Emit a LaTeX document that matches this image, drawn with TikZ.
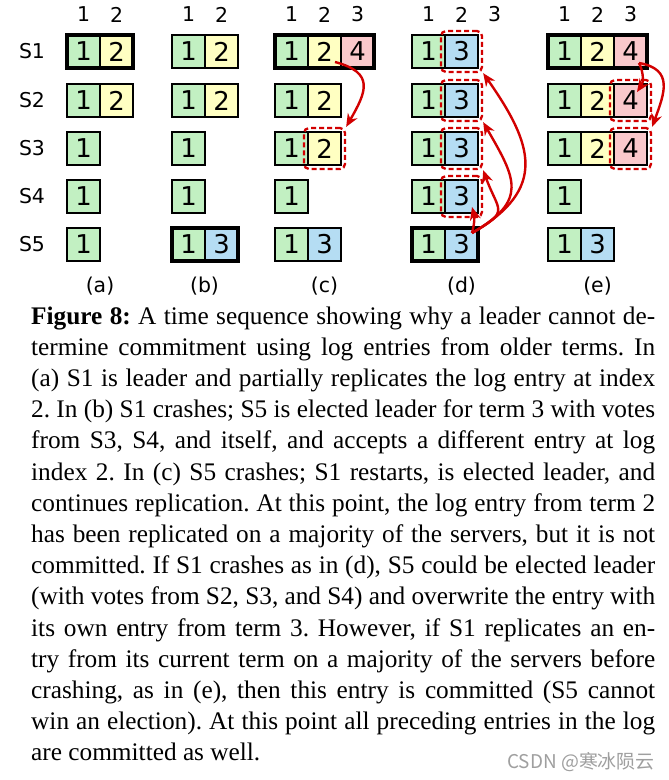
\documentclass[tikz,border=0pt]{standalone}
\usepackage{fontspec}
\setmainfont{Liberation Serif}
\newfontfamily\cellfont{DejaVu Sans}
\newfontfamily\cjkfont{Noto Sans CJK SC}
\usetikzlibrary{arrows.meta,positioning,fit}
\definecolor{termone}{HTML}{C2F0C2}
\definecolor{termtwo}{HTML}{FFFFC2}
\definecolor{termthree}{HTML}{B5DDF3}
\definecolor{termfour}{HTML}{FAC8CB}
\definecolor{arrowred}{HTML}{D20000}

\begin{document}
\begin{tikzpicture}[x=1bp,y=1bp,>={Stealth[length=13bp,width=11bp]},
  cell/.style={draw,line width=1.7bp,minimum width=33bp,minimum height=33bp,inner sep=0pt,outer sep=0pt,font=\cellfont\fontsize{26}{26}\selectfont},
  tm1/.style={cell,fill=termone},tm2/.style={cell,fill=termtwo},
  tm3/.style={cell,fill=termthree},tm4/.style={cell,fill=termfour},
  lead/.style={line width=4.5bp},
  pick/.style={draw=arrowred,line width=2.3bp,dash pattern=on 5bp off 3bp,rounded corners=5bp,inner sep=4bp},
  move/.style={draw=arrowred,line width=2.4bp,->},
  lbl/.style={font=\cellfont\fontsize{20.5}{20.5}\selectfont}]
\useasboundingbox[fill=white] (0,0) rectangle (669,-780);
% server names
\node[lbl] (s1) at (32,-51.5) {S1};
\node[lbl] (s2) at (32,-100.5) {S2};
\node[lbl] (s3) at (32,-148.5) {S3};
\node[lbl] (s4) at (32,-196.5) {S4};
\node[lbl] (s5) at (32,-244.5) {S5};
% index numbers
\node[lbl] (ah1) at (83.5,-14.5) {1}; \node[lbl] (ah2) at (116.5,-14.5) {2};
\node[lbl] (bh1) at (188.5,-14.5) {1}; \node[lbl] (bh2) at (221.5,-14.5) {2};
\node[lbl] (ch1) at (291.5,-14.5) {1}; \node[lbl] (ch2) at (324.5,-14.5) {2}; \node[lbl] (ch3) at (357.5,-14.5) {3};
\node[lbl] (dh1) at (428.5,-14.5) {1}; \node[lbl] (dh2) at (461.5,-14.5) {2}; \node[lbl] (dh3) at (494.5,-14.5) {3};
\node[lbl] (eh1) at (564.5,-14.5) {1}; \node[lbl] (eh2) at (597.5,-14.5) {2}; \node[lbl] (eh3) at (630.5,-14.5) {3};
% (a)
\node[tm1] (a1e1) at (83.5,-51.5) {1}; \node[tm2,right=0pt of a1e1] (a1e2) {2};
\node[tm1] (a2e1) at (83.5,-100.5) {1}; \node[tm2,right=0pt of a2e1] (a2e2) {2};
\node[tm1] (a3e1) at (83.5,-148.5) {1};
\node[tm1] (a4e1) at (83.5,-196.5) {1};
\node[tm1] (a5e1) at (83.5,-244.5) {1};
\draw[lead] (a1e1.north west) rectangle (a1e2.south east);
% (b)
\node[tm1] (b1e1) at (188.5,-51.5) {1}; \node[tm2,right=0pt of b1e1] (b1e2) {2};
\node[tm1] (b2e1) at (188.5,-100.5) {1}; \node[tm2,right=0pt of b2e1] (b2e2) {2};
\node[tm1] (b3e1) at (188.5,-148.5) {1};
\node[tm1] (b4e1) at (188.5,-196.5) {1};
\node[tm1] (b5e1) at (188.5,-244.5) {1}; \node[tm3,right=0pt of b5e1] (b5e2) {3};
\draw[lead] (b5e1.north west) rectangle (b5e2.south east);
% (c)
\node[tm1] (c1e1) at (291.5,-51.5) {1}; \node[tm2,right=0pt of c1e1] (c1e2) {2}; \node[tm4,right=0pt of c1e2] (c1e3) {4};
\node[tm1] (c2e1) at (291.5,-100.5) {1}; \node[tm2,right=0pt of c2e1] (c2e2) {2};
\node[tm1] (c3e1) at (291.5,-148.5) {1}; \node[tm2,right=0pt of c3e1] (c3e2) {2};
\node[tm1] (c4e1) at (291.5,-196.5) {1};
\node[tm1] (c5e1) at (291.5,-244.5) {1}; \node[tm3,right=0pt of c5e1] (c5e2) {3};
\draw[lead] (c1e1.north west) rectangle (c1e3.south east);
\node[pick,fit=(c3e2)] (c3p) {};
\coordinate (csrc) at ([xshift=-6bp,yshift=6bp]c1e2.south east);
\draw[move] (csrc) to[out=-15,in=60,looseness=1.6] (c3p.north east);
% (d)
\node[tm1] (d1e1) at (428.5,-51.5) {1}; \node[tm3,right=0pt of d1e1] (d1e2) {3};
\node[tm1] (d2e1) at (428.5,-100.5) {1}; \node[tm3,right=0pt of d2e1] (d2e2) {3};
\node[tm1] (d3e1) at (428.5,-148.5) {1}; \node[tm3,right=0pt of d3e1] (d3e2) {3};
\node[tm1] (d4e1) at (428.5,-196.5) {1}; \node[tm3,right=0pt of d4e1] (d4e2) {3};
\node[tm1] (d5e1) at (428.5,-244.5) {1}; \node[tm3,right=0pt of d5e1] (d5e2) {3};
\draw[lead] (d5e1.north west) rectangle (d5e2.south east);
\node[pick,fit=(d1e2)] (d1p) {};
\node[pick,fit=(d2e2)] (d2p) {};
\node[pick,fit=(d3e2)] (d3p) {};
\node[pick,fit=(d4e2)] (d4p) {};
\coordinate (dsrc) at ([xshift=-6bp,yshift=-5bp]d5e2.north east);
\coordinate (dtip) at ([xshift=-6bp,yshift=6bp]d4e2.south east);
\draw[move] (dsrc) to[bend right=15] (dtip);
\draw[move] (dsrc) to[out=30,in=-70,looseness=1.8] (d3p.south east);
\draw[move] (dsrc) to[out=30,in=-60,looseness=1.5] (d2p.south east);
\draw[move] (dsrc) to[out=30,in=-55,looseness=1.4] (d1p.south east);
% (e)
\node[tm1] (e1e1) at (564.5,-51.5) {1}; \node[tm2,right=0pt of e1e1] (e1e2) {2}; \node[tm4,right=0pt of e1e2] (e1e3) {4};
\node[tm1] (e2e1) at (564.5,-100.5) {1}; \node[tm2,right=0pt of e2e1] (e2e2) {2}; \node[tm4,right=0pt of e2e2] (e2e3) {4};
\node[tm1] (e3e1) at (564.5,-148.5) {1}; \node[tm2,right=0pt of e3e1] (e3e2) {2}; \node[tm4,right=0pt of e3e2] (e3e3) {4};
\node[tm1] (e4e1) at (564.5,-196.5) {1};
\node[tm1] (e5e1) at (564.5,-244.5) {1}; \node[tm3,right=0pt of e5e1] (e5e2) {3};
\draw[lead] (e1e1.north west) rectangle (e1e3.south east);
\node[pick,fit=(e2e3)] (e2p) {};
\node[pick,fit=(e3e3)] (e3p) {};
\coordinate (esrc) at ([xshift=-8bp,yshift=5bp]e1e3.south east);
\coordinate (etip) at ([xshift=-10bp,yshift=-8bp]e2e3.north east);
\draw[move] (esrc) to[bend left=30] (etip);
\draw[move] (esrc) to[out=-10,in=70,looseness=1.4] (e3p.north east);
% panel names
\node[lbl] (pa) at (100,-286) {(a)};
\node[lbl] (pb) at (204.5,-286) {(b)};
\node[lbl] (pc) at (324.5,-286) {(c)};
\node[lbl] (pd) at (461.5,-286) {(d)};
\node[lbl] (pe) at (597.5,-286) {(e)};
% caption
\node[anchor=north west,inner sep=0pt,text width=624bp,align=justify,
  font=\fontsize{25.4}{31.3}\selectfont] (cap) at (31,-306.5) {\frenchspacing\hyphenpenalty=10000\tolerance=9999
\textbf{Figure 8:} A time sequence showing why a leader cannot de-\linebreak
termine commitment using log entries from older terms. In\linebreak
(a) S1 is leader and partially replicates the log entry at index\linebreak
2. In (b) S1 crashes; S5 is elected leader for term 3 with votes\linebreak
from S3, S4, and itself, and accepts a different entry at log\linebreak
index 2. In (c) S5 crashes; S1 restarts, is elected leader, and\linebreak
continues replication. At this point, the log entry from term 2\linebreak
has been replicated on a majority of the servers, but it is not\linebreak
committed. If S1 crashes as in (d), S5 could be elected leader\linebreak
(with votes from S2, S3, and S4) and overwrite the entry with\linebreak
its own entry from term 3. However, if S1 replicates an en-\linebreak
try from its current term on a majority of the servers before\linebreak
crashing, as in (e), then this entry is committed (S5 cannot\linebreak
win an election). At this point all preceding entries in the log\linebreak
are committed as well.};
\node[font=\cjkfont\fontsize{19}{19}\selectfont,text=gray!75] (mark) at (581,-762) {CSDN @寒冰陨云};
\end{tikzpicture}
\end{document}
